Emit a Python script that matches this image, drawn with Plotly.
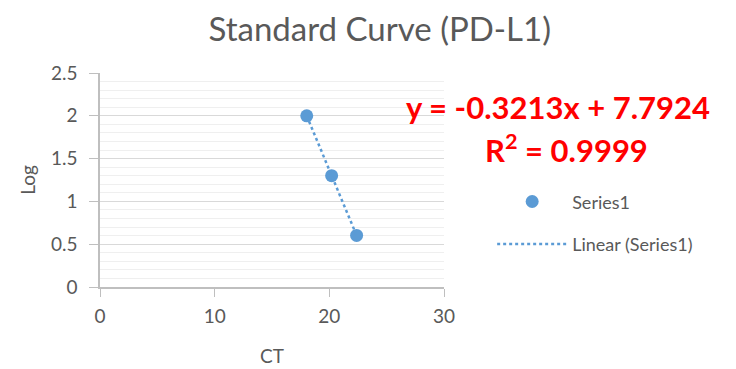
import plotly.graph_objects as go

# Standard curve data: CT values and log concentration
ct = [18.03, 20.2, 22.38]
log_conc = [2.0, 1.301, 0.602]

# Linear trendline parameters (as printed on the chart)
slope = -0.3213
intercept = 7.7924
r_squared = 0.9999

x_ticks = [0, 10, 20, 30]
y_ticks = [0, 0.5, 1, 1.5, 2, 2.5]

blue = "#5B9BD5"
grey_text = "#595959"
font_family = "Lato, Open Sans, sans-serif"

trend_x = [min(ct), max(ct)]
trend_y = [slope * x + intercept for x in trend_x]

fig = go.Figure()
fig.add_trace(go.Scatter(
    x=ct, y=log_conc, mode="markers", name="Series1",
    marker=dict(color=blue, size=13), legendgroup="a",
))
fig.add_trace(go.Scatter(
    x=trend_x, y=trend_y, mode="lines", name="Linear (Series1)",
    line=dict(color=blue, width=2.5, dash="dot"), legendgroup="b",
))

fig.update_layout(
    width=736, height=369,
    margin=dict(l=99.5, r=292, t=72.7, b=82),
    paper_bgcolor="white", plot_bgcolor="white",
    font=dict(family=font_family, color=grey_text, size=18),
    title=dict(text="Standard Curve (PD-L1)", x=0.516, xanchor="center",
               y=0.919, yanchor="middle",
               font=dict(size=33, color=grey_text, family=font_family)),
    xaxis=dict(
        range=[0, 30], tickvals=x_ticks, showgrid=False, zeroline=False,
        showline=True, linecolor="#BFBFBF", linewidth=1.5,
        ticks="outside", ticklen=8, tickcolor="#BFBFBF",
        ticklabelstandoff=3, automargin=False,
        tickfont=dict(size=19, color=grey_text),
        title=dict(text="CT", font=dict(size=19, color=grey_text), standoff=24),
    ),
    yaxis=dict(
        range=[0, 2.5], tickvals=y_ticks, showgrid=True, gridcolor="#D9D9D9",
        gridwidth=1.2, zeroline=False,
        showline=True, linecolor="#BFBFBF", linewidth=1.5,
        ticks="outside", ticklen=9, tickcolor="#BFBFBF",
        ticklabelstandoff=8, automargin=False,
        tickfont=dict(size=19, color=grey_text),
        minor=dict(dtick=0.1, showgrid=True, gridcolor="#EFEFEF", gridwidth=1),
        title=dict(text="Log", font=dict(size=19, color=grey_text), standoff=10),
    ),
    legend=dict(
        x=1.14, y=0.30, xanchor="left", yanchor="middle",
        font=dict(size=18, color=grey_text, family=font_family),
        itemwidth=70,
        tracegroupgap=16, traceorder="grouped", bgcolor="rgba(0,0,0,0)",
    ),
    showlegend=True,
)

fig.add_annotation(
    xref="paper", yref="paper", x=1.332, y=0.84, xanchor="center", yanchor="middle",
    text=f"y = {slope:.4f}x + {intercept:.4f}", showarrow=False,
    font=dict(size=31, color="#FF0000", family=font_family, weight="bold"),
)
fig.add_annotation(
    xref="paper", yref="paper", x=1.357, y=0.645, xanchor="center", yanchor="middle",
    text=f"R<sup>2</sup> = {r_squared:.4f}", showarrow=False,
    font=dict(size=31, color="#FF0000", family=font_family, weight="bold"),
)

fig.write_html("out.html")
